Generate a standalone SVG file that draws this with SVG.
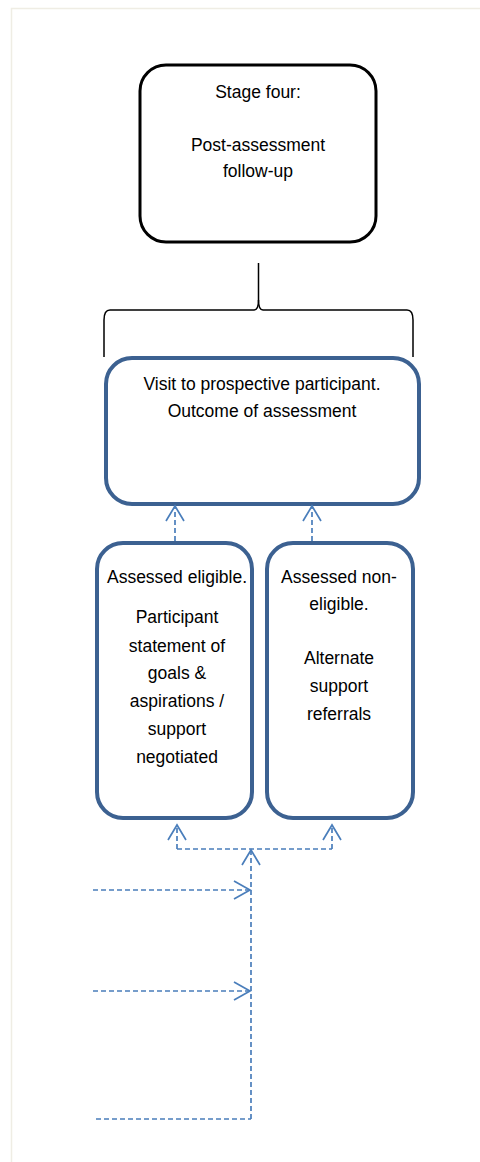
<svg xmlns="http://www.w3.org/2000/svg" width="480" height="1162" viewBox="0 0 480 1162">
<defs>
<style>
.t{font-family:"Liberation Sans",Arial,sans-serif;font-size:17.5px;fill:#000;text-anchor:middle}
.blue{fill:#fff;stroke:#3c6191;stroke-width:4}
.conn{fill:none;stroke:#4a7ebb;stroke-width:1.7;stroke-dasharray:5 3}
.head{fill:none;stroke:#4a7ebb;stroke-width:1.7}
</style>
</defs>
<rect width="480" height="1162" fill="#fff"/>
<path d="M11.5 1162 V8.5 H480" fill="none" stroke="#efede4" stroke-width="1.5"/>
<g id="stage-four">
<rect x="140" y="65" width="236" height="177" rx="26" fill="#fff" stroke="#000" stroke-width="3"/>
<text class="t" x="258" y="98">Stage four:</text>
<text class="t" x="258" y="151">Post-assessment</text>
<text class="t" x="258" y="177">follow-up</text>
</g>
<g id="brace">
<path d="M258.5 263 V300 Q258.5 310 254 310 H110 Q104 310 104 320 V357" fill="none" stroke="#000" stroke-width="1.5"/>
<path d="M258.5 300 Q258.5 310 263 310 H407 Q413 310 413 320 V357" fill="none" stroke="#000" stroke-width="1.5"/>
</g>
<g id="visit">
<rect x="106" y="358" width="313" height="146" rx="26" class="blue"/>
<text class="t" x="262" y="390">Visit to prospective participant.</text>
<text class="t" x="262" y="417">Outcome of assessment</text>
</g>
<g id="eligible">
<rect x="97" y="543" width="155" height="275" rx="26" class="blue"/>
<text class="t" x="177" y="583">Assessed eligible.</text>
<text class="t" x="177" y="623">Participant</text>
<text class="t" x="177" y="652">statement of</text>
<text class="t" x="177" y="679">goals &amp;</text>
<text class="t" x="177" y="707">aspirations /</text>
<text class="t" x="177" y="735">support</text>
<text class="t" x="177" y="763">negotiated</text>
</g>
<g id="non-eligible">
<rect x="267" y="543" width="146" height="275" rx="26" class="blue"/>
<text class="t" x="339" y="583">Assessed non-</text>
<text class="t" x="339" y="610">eligible.</text>
<text class="t" x="339" y="664">Alternate</text>
<text class="t" x="339" y="692">support</text>
<text class="t" x="339" y="720">referrals</text>
</g>
<g id="connectors">
<path class="conn" d="M175 541 V507"/>
<path class="head" d="M166 521 L175 506 L184 521"/>
<path class="conn" d="M312 541 V507"/>
<path class="head" d="M303 521 L312 506 L321 521"/>
<path class="conn" d="M177 849 V826"/>
<path class="head" d="M168 840 L177 825 L186 840"/>
<path class="conn" d="M332 849 V826"/>
<path class="head" d="M323 840 L332 825 L341 840"/>
<path class="conn" d="M177 849 H332"/>
<path class="conn" d="M251 1119 V851"/>
<path class="head" d="M242 865 L251 850 L260 865"/>
<path class="conn" d="M93 890 H249"/>
<path class="head" d="M234 881 L250 890 L234 899"/>
<path class="conn" d="M93 991 H249"/>
<path class="head" d="M234 982 L250 991 L234 1000"/>
<path class="conn" d="M96 1119 H251"/>
</g>
</svg>
